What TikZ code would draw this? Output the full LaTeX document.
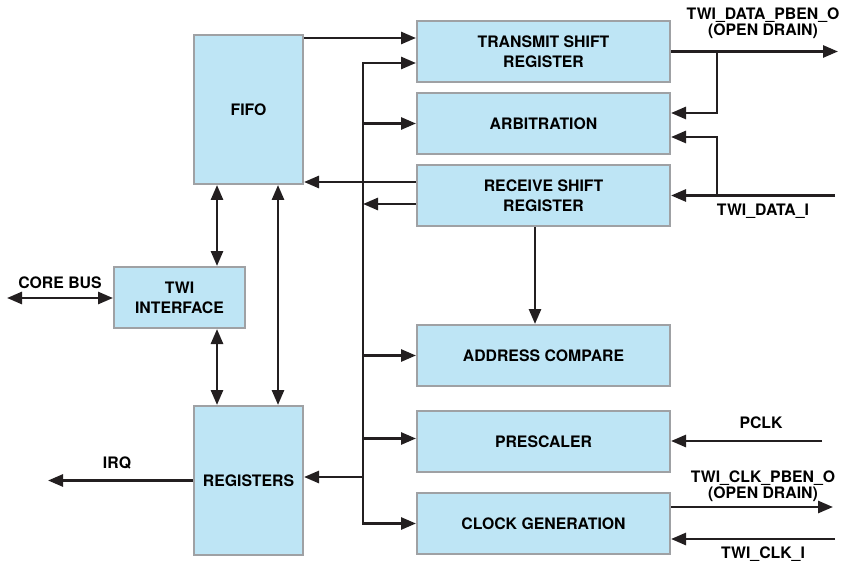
\documentclass[tikz,border=0pt]{standalone}
\usepackage{fontspec}
\setmainfont{TeX Gyre Heros}
\usepackage{xcolor}
\usepackage{tikz}
\usetikzlibrary{arrows.meta,positioning}

\definecolor{boxfill}{HTML}{BEE5F5}
\definecolor{boxline}{HTML}{9FA1A4}
\definecolor{wire}{HTML}{231F20}

\begin{document}
\begin{tikzpicture}[x=1pt, y=-1pt,
    font=\fontsize{15.8}{20}\selectfont\bfseries,
    blk/.style={draw=boxline, fill=boxfill, line width=2pt, align=center, inner sep=2pt},
    wide/.style={blk, minimum width=253pt, minimum height=61pt},
    tall/.style={blk, minimum width=109pt, minimum height=149pt},
    sig/.style={font=\fontsize{15.8}{16}\selectfont\bfseries, align=center, inner sep=0pt, anchor=base},
    arr/.style={draw=wire, line width=2.7pt, -{Triangle[length=15pt,width=12pt]}},
    biarr/.style={arr, {Triangle[length=15pt,width=12pt]}-{Triangle[length=15pt,width=12pt]}}]
        \useasboundingbox (0,0) rectangle (842,561);

        \node[tall] (fifo) at (248.5,109.5) {FIFO};
        \node[blk, minimum width=131pt, minimum height=61pt] (twi) at (179.5,297.5) {TWI\\INTERFACE};
        \node[tall] (regs) at (248.5,480.5) {REGISTERS};

        \node[wide] (tsr) at (543.5,51.5) {TRANSMIT SHIFT\\REGISTER};
        \node[wide, below=9pt of tsr] (arb) {ARBITRATION};
        \node[wide, below=9pt of arb] (rsr) {RECEIVE SHIFT\\REGISTER};
        \node[wide] (addr) at (543.5,355.5) {ADDRESS COMPARE};
        \node[wide, below=23pt of addr] (presc) {PRESCALER};
        \node[wide, below=19pt of presc] (clkgen) {CLOCK GENERATION};

        % base = last line
        \node[sig] (dpben) at (763,36) {TWI\_DATA\_PBEN\_O\\(OPEN DRAIN)};
        \node[sig] (datai) at (763,215) {TWI\_DATA\_I};
        \node[sig] (pclk) at (761,428) {PCLK};
        \node[sig] (cpben) at (763,498) {TWI\_CLK\_PBEN\_O\\(OPEN DRAIN)};
        \node[sig] (clki) at (763,558) {TWI\_CLK\_I};
        \node[sig] (corebus) at (60,288) {CORE BUS};
        \node[sig] (irq) at (117,468) {IRQ};

        \coordinate (bt) at (363,63);
        \coordinate (tap) at (717,51.5);
        \coordinate (dout) at (838,51.5);
        \coordinate (din) at (835,195.5);
        \coordinate (pclkin) at (822,441);
        \coordinate (cout) at (833,507);
        \coordinate (cin) at (835,539);
        \coordinate (cbus) at (7,298);
        \coordinate (irqout) at (48,480.5);
        \coordinate (fl) at ([xshift=-31.5pt]fifo.south);
        \coordinate (fr) at ([xshift=29.5pt]fifo.south);

        % internal bus
        \draw[biarr] (bt -| tsr.west) -- (bt) -- (bt |- clkgen.west) -- (clkgen.west);
        \draw[arr] (bt |- arb.west) -- (arb.west);
        \draw[arr] (bt |- addr.west) -- (addr.west);
        \draw[arr] ([yshift=3pt]bt |- presc.west) -- ([yshift=3pt]presc.west);
        \draw[arr] ([yshift=3.5pt]bt |- regs.east) -- ([yshift=3.5pt]regs.east);
        \draw[arr] ([yshift=-8.5pt]rsr.west) -- ([yshift=-8.5pt]rsr.west -| bt);

        \draw[arr] ([yshift=-4pt]fifo.north east) -- ([yshift=-4pt]fifo.north east -| tsr.west);
        \draw[arr] ([yshift=3pt]fifo.south east -| rsr.west) -- ([yshift=3pt]fifo.south east);
        \draw[arr] ([xshift=-8.5pt]rsr.south) -- ([xshift=-8.5pt]addr.north);

        \draw[biarr] (fl) -- (fl |- twi.north);
        \draw[biarr] (fl |- twi.south) -- (fl |- regs.north);
        \draw[biarr] (fr) -- (fr |- regs.north);

        % pins
        \draw[biarr] (cbus) -- (cbus -| twi.west);
        \draw[arr] (regs.west) -- (irqout);
        \draw[arr] (tsr.east) -- (dout);
        \draw[arr] (tap) |- ([yshift=10.5pt]arb.east);
        \draw[arr] (din) -- (din -| rsr.east);
        \draw[arr] (tap |- din) |- ([yshift=-13.5pt]arb.east);
        \draw[arr] (pclkin) -- (pclkin -| presc.east);
        \draw[arr] (clkgen.east |- cout) -- (cout);
        \draw[arr] (cin) -- (cin -| clkgen.east);
\end{tikzpicture}
\end{document}
